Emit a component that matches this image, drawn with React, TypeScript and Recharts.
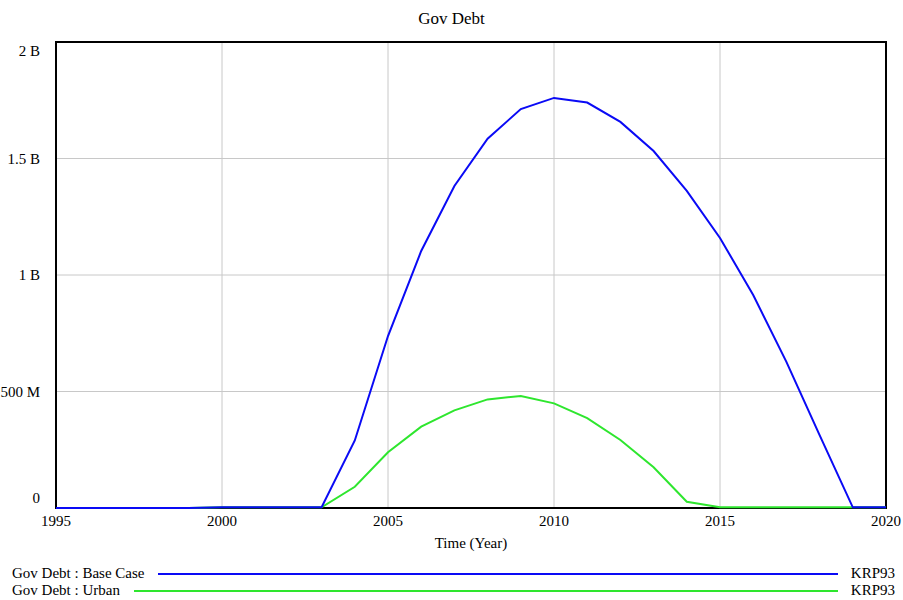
import React from 'react';
import { LineChart, Line, XAxis, YAxis, CartesianGrid, ReferenceArea } from 'recharts';

const years = [1995, 1996, 1997, 1998, 1999, 2000, 2001, 2002, 2003, 2004, 2005, 2006, 2007, 2008, 2009, 2010, 2011, 2012, 2013, 2014, 2015, 2016, 2017, 2018, 2019, 2020];

// Gov Debt : Base Case (dollars)
const baseCase = [0, 0, 0, 0, 0, 3e6, 3e6, 3e6, 3e6, 290e6, 738e6, 1103e6, 1382e6, 1585e6, 1712e6, 1760e6, 1740e6, 1657e6, 1532e6, 1361e6, 1159e6, 914e6, 627e6, 313e6, 3e6, 3e6];
// Gov Debt : Urban (dollars)
const urban = [0, 0, 0, 0, 0, 3e6, 3e6, 3e6, 3e6, 91e6, 239e6, 349e6, 419e6, 466e6, 481e6, 449e6, 386e6, 292e6, 175e6, 27e6, 3e6, 3e6, 3e6, 3e6, 3e6, 3e6];

const xTicks = [1995, 2000, 2005, 2010, 2015, 2020];
const yTicks = [0, 5e8, 1e9, 1.5e9, 2e9];
const yTickLabels = ['0', '500 M', '1 B', '1.5 B', '2 B'];

const seriesNames = ['Gov Debt : Base Case', 'Gov Debt : Urban'];
const seriesColors = ['#0a0af5', '#2ee62e'];
const runName = 'KRP93';

const data = years.map((year, i) => ({ year, base: baseCase[i], urban: urban[i] }));

const FONT = "'Times New Roman', 'Liberation Serif', 'DejaVu Serif', serif";

const YTick = (props: any) => {
    const { x, y, payload } = props;
    const idx = yTicks.indexOf(payload.value);
    let dy = 5;
    if (idx === yTicks.length - 1) dy = 14;
    if (idx === 0) dy = -5;
    return (
        <text x={x} y={y + dy} textAnchor="end" style={{ fontFamily: FONT }} fontSize={15} fill="#000">
            {yTickLabels[idx]}
        </text>
    );
};

const XTick = (props: any) => {
    const { x, y, payload } = props;
    return (
        <text x={x} y={y + 10} textAnchor="middle" style={{ fontFamily: FONT }} fontSize={15} fill="#000">
            {payload.value}
        </text>
    );
};

export default function App() {
    return (
        <div style={{ position: 'absolute', left: 0, top: 0, width: 903, height: 600, background: '#fff', fontFamily: FONT }}>
            <div style={{ position: 'absolute', top: 9, width: 903, textAlign: 'center', fontSize: 17 }}>Gov Debt</div>
            <LineChart width={903} height={560} data={data} margin={{ top: 42, right: 17, left: 0, bottom: 0 }} style={{ fontFamily: FONT }}>
                <CartesianGrid stroke="#c8c8c8" strokeWidth={1} verticalValues={[2000, 2005, 2010, 2015]} horizontalValues={[5e8, 1e9, 1.5e9]} />
                <XAxis
                    dataKey="year"
                    type="number"
                    domain={[1995, 2020]}
                    ticks={xTicks}
                    height={52}
                    axisLine={false}
                    tickLine={false}
                    tick={<XTick />}
                    label={{ value: 'Time (Year)', position: 'insideBottom', offset: 12, style: { fontFamily: FONT }, fontSize: 15, fill: '#000' }}
                />
                <YAxis
                    type="number"
                    domain={[0, 2e9]}
                    ticks={yTicks}
                    width={56}
                    axisLine={false}
                    tickLine={false}
                    tickMargin={10}
                    tick={<YTick />}
                />
                <ReferenceArea x1={1995} x2={2020} y1={0} y2={2e9} fill="none" stroke="#000" strokeWidth={2} />
                <Line type="linear" dataKey="urban" stroke={seriesColors[1]} strokeWidth={2} dot={false} isAnimationActive={false} />
                <Line type="linear" dataKey="base" stroke={seriesColors[0]} strokeWidth={2} dot={false} isAnimationActive={false} />
            </LineChart>
            {seriesNames.map((name, i) => (
                <div
                    key={name}
                    style={{ position: 'absolute', left: 12, right: 8, top: 565 + i * 17, height: 17, display: 'flex', alignItems: 'center', fontSize: 15, lineHeight: '17px' }}
                >
                    <span style={{ whiteSpace: 'nowrap' }}>{name}</span>
                    <div style={{ flex: 1, margin: '0 13px 0 14px', borderTop: `2px solid ${seriesColors[i]}` }} />
                    <span>{runName}</span>
                </div>
            ))}
        </div>
    );
}
